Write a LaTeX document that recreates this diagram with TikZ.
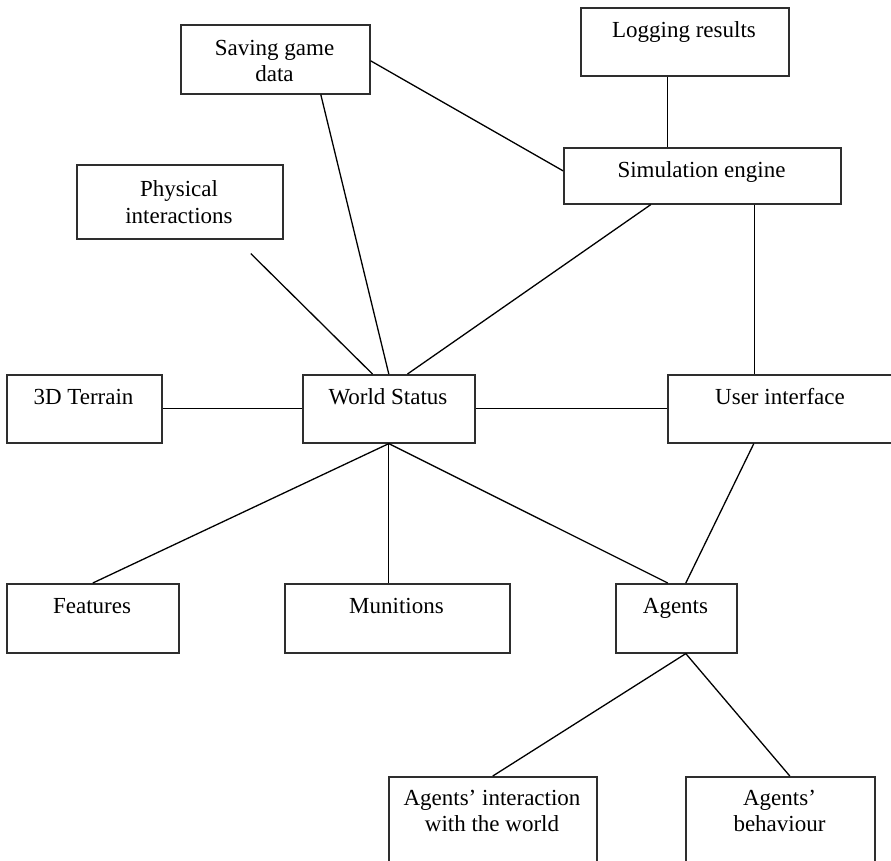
\documentclass[tikz,border=0pt]{standalone}
\usepackage{fontspec}
\setmainfont{Liberation Serif}
\usetikzlibrary{calc}
\definecolor{boxgray}{HTML}{2E2E2E}
\begin{document}
\begin{tikzpicture}[x=1pt,y=-1pt,
  box/.style={draw=boxgray, line width=1.6pt, rectangle, inner sep=0pt, anchor=north west},
  sized/.style 2 args={minimum width=#1, minimum height=#2},
  lbl/.style={anchor=north, inner sep=0pt, align=center, font=\fontsize{23}{26.5}\selectfont},
  link/.style={draw=black, line width=1.3pt}]

% page frame
\useasboundingbox (0,0) rectangle (891,860);
\fill[white] (0,0) rectangle (891,860);
\clip (0,0) rectangle (891,860);

% boxes (top-left corner, width, height)
\node[box, sized={189pt}{69pt}]  (save)   at (180,24)  {};
\node[box, sized={208pt}{68pt}]  (log)    at (580,7)   {};
\node[box, sized={277pt}{56pt}]  (sim)    at (563,147) {};
\node[box, sized={206pt}{74pt}]  (phys)   at (76,164)  {};
\node[box, sized={155pt}{68pt}]  (terr)   at (6,374)   {};
\node[box, sized={172pt}{68pt}]  (ws)     at (302,374) {};
\node[box, sized={240pt}{68pt}]  (ui)     at (667,374) {};
\node[box, sized={172pt}{69pt}]  (feat)   at (6,583)   {};
\node[box, sized={225pt}{69pt}]  (mun)    at (284,583) {};
\node[box, sized={121pt}{69pt}]  (agents) at (615,583) {};
\node[box, sized={208pt}{100pt}] (inter)  at (388,776) {};
\node[box, sized={189pt}{100pt}] (beh)    at (685,776) {};

% labels
\node[lbl] (save-t)   at (274.5,38)  {\rule{0pt}{17pt}Saving game\\data};
\node[lbl] (log-t)    at (684,20)    {\rule{0pt}{17pt}Logging results};
\node[lbl] (sim-t)    at (701.5,160) {\rule{0pt}{17pt}Simulation engine};
\node[lbl] (phys-t)   at (179,179.5) {\rule{0pt}{17pt}Physical\\interactions};
\node[lbl] (terr-t)   at (83.5,387)  {\rule{0pt}{17pt}3D Terrain};
\node[lbl] (ws-t)     at (388,387)   {\rule{0pt}{17pt}World Status};
\node[lbl] (ui-t)     at (780,387)   {\rule{0pt}{17pt}User interface};
\node[lbl] (feat-t)   at (92,596)    {\rule{0pt}{17pt}Features};
\node[lbl] (mun-t)    at (396.5,596) {\rule{0pt}{17pt}Munitions};
\node[lbl] (agents-t) at (675.5,596) {\rule{0pt}{17pt}Agents};
\node[lbl] (inter-t)  at (492,788)   {\rule{0pt}{17pt}Agents’ interaction\\with the world};
\node[lbl] (beh-t)    at (779.5,788) {\rule{0pt}{17pt}Agents’\\behaviour};

% free end of the physical-interactions link
\coordinate (physend) at ([shift={(71pt,-14pt)}]phys.south);

% connectors
\draw[link] ([xshift=45.5pt]save.south) -- (ws.north);
\draw[link] ([yshift=-1.5pt]save.east) -- ([yshift=5pt]sim.west);
\draw[link] ([xshift=-17pt]log.south) -- ([xshift=-17pt]log.south |- sim.north);
\draw[link] ([xshift=-51.5pt]sim.south) -- ([xshift=18.7pt]ws.north);
\draw[link] ([xshift=52.5pt]sim.south) -- ([xshift=52.5pt]sim.south |- ui.north);
\draw[link] (physend) -- ([xshift=-16.3pt]ws.north);
\draw[link] (terr.east) -- (ws.west);
\draw[link] (ws.east) -- (ui.west);
\draw[link] (ws.south) -- (feat.north);
\draw[link] (ws.south) -- (ws.south |- mun.north);
\draw[link] (ws.south) -- ([xshift=-8.5pt]agents.north);
\draw[link] ([xshift=-34pt]ui.south) -- ([xshift=9.5pt]agents.north);
\draw[link] ([xshift=9.5pt]agents.south) -- (inter.north);
\draw[link] ([xshift=9.5pt]agents.south) -- ([xshift=9.5pt]beh.north);
\end{tikzpicture}
\end{document}
